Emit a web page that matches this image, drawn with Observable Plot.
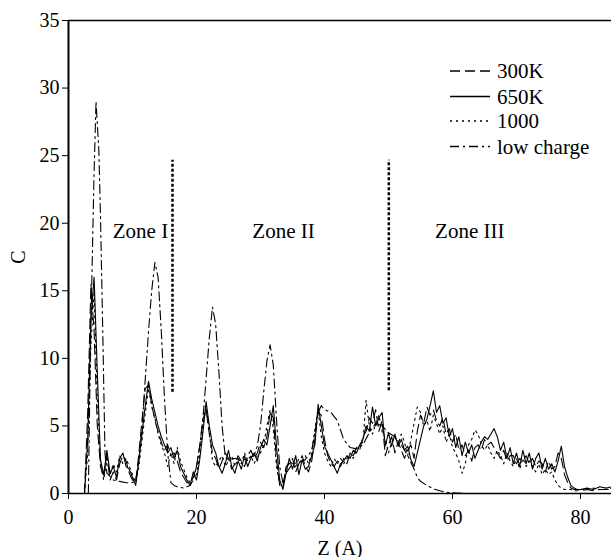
<!DOCTYPE html>
<html><head><meta charset="utf-8">
<script src="https://cdn.jsdelivr.net/npm/d3@7"></script>
<script src="https://cdn.jsdelivr.net/npm/@observablehq/plot@0.6"></script>
<style>body{margin:0;background:#fff;} #chart svg{display:block}</style>
</head><body><div id="chart"></div>
<script>
// Z grid shared by the three temperature series
const zT = [
 2.5,3,3.5,4,4.5,5,5.5,6,6.5,7,
 7.5,8,8.5,9,9.5,10,10.5,11,11.5,12,
 12.5,13,13.5,14,14.5,15,15.5,16,16.5,17,
 17.5,18,18.5,19,19.5,20,20.5,21,21.5,22,
 22.5,23,23.5,24,24.5,25,25.5,26,26.5,27,
 27.5,28,28.5,29,29.5,30,30.5,31,31.5,32,
 32.5,33,33.5,34,34.5,35,35.5,36,36.5,37,
 37.5,38,38.5,39,39.5,40,40.5,41,41.5,42,
 42.5,43,43.5,44,44.5,45,45.5,46,46.5,47,
 47.5,48,48.5,49,49.5,50,50.5,51,51.5,52,
 52.5,53,53.5,54,54.5,55,55.5,56,56.5,57,
 57.5,58,58.5,59,59.5,60,60.5,61,61.5,62,
 62.5,63,63.5,64,64.5,65,65.5,66,66.5,67,
 67.5,68,68.5,69,69.5,70,70.5,71,71.5,72,
 72.5,73,73.5,74,74.5,75,75.5,76,76.5,77,
 77.5,78,78.5,79,79.5,80,81,82,83,84,
 85];
const c300 = [
 0,6,15.5,12,5,2.0,1.2,2.8,1.0,1.6,
 1.0,2.2,2.8,2.4,1.5,1.0,0.8,3.0,5.5,7.8,
 8.0,6.6,5.4,4.6,3.8,3.2,3.6,2.8,3.0,2.4,
 1.6,1.2,0.8,0.8,1.2,2.0,3.5,5.5,6.2,4.4,
 3.0,2.6,1.8,2.4,3.0,2.6,1.8,2.2,2.8,2.4,
 2.0,2.8,3.2,2.6,3.0,3.8,3.4,4.2,6.0,5.6,
 2.5,0.6,0.5,2.0,2.2,2.6,1.6,2.2,2.8,2.0,
 1.6,2.4,4.0,6.0,5.8,4.0,2.8,2.2,2.0,2.4,
 2.0,2.6,2.2,3.0,2.8,3.4,3.2,4.2,4.6,5.6,
 5.2,6.2,4.6,5.4,2.8,3.6,4.2,3.0,3.8,3.2,
 2.6,3.2,3.6,2.6,4.6,5.8,5.2,6.4,5.8,6.2,
 5.4,5.0,5.6,4.4,4.8,3.8,4.4,3.2,3.6,2.8,
 3.2,2.4,3.4,3.6,3.2,4.0,3.6,3.8,3.4,3.0,
 2.6,3.2,2.4,2.8,2.8,2.2,2.6,2.4,2.8,2.2,
 2.6,2.0,2.4,2.2,1.6,2.4,1.8,2.0,3.0,2.6,
 1.4,0.8,0.4,0.3,0.3,0.2,0.3,0.2,0.3,0.3,
 0.3];
const c650 = [
 0,4,13,16,9,2.5,1.4,3.2,1.5,2.0,
 1.2,2.6,3.0,2.0,1.8,1.2,0.6,2.5,4.5,6.5,
 8.3,7.0,6.0,5.0,4.2,3.6,3.0,3.4,2.6,3.2,
 2.0,1.5,1.0,0.6,1.6,1.0,2.5,4.5,6.8,5.0,
 3.6,3.0,2.0,1.5,2.2,3.2,2.0,1.5,2.4,1.8,
 2.8,2.0,2.6,3.0,2.4,3.4,4.0,3.6,5.0,6.5,
 3.5,1.0,0.3,1.5,2.6,1.8,2.8,1.4,2.5,1.8,
 2.0,2.8,3.6,6.6,5.0,3.5,3.0,2.5,2.0,1.5,
 2.2,2.4,2.8,2.6,3.2,3.0,3.6,4.0,5.0,4.6,
 6.4,5.0,5.6,6.0,3.5,4.5,3.5,4.4,3.5,4.0,
 3.2,3.5,2.5,2.0,3.0,4.0,5.0,5.5,6.5,7.6,
 6.0,6.5,5.2,5.6,4.2,4.8,3.4,4.2,2.8,3.8,
 3.0,3.6,2.6,3.2,3.8,4.2,4.0,4.4,4.8,4.2,
 3.2,3.8,2.6,3.4,2.2,3.0,2.0,3.2,2.2,3.0,
 1.8,2.6,3.0,1.8,2.6,1.8,2.2,1.6,2.4,3.5,
 2.0,1.2,0.6,0.4,0.3,0.3,0.4,0.3,0.5,0.4,
 0.5];
const c1000 = [
 0,3,11,15,7,2.2,1.0,2.6,1.4,2.2,
 1.6,2.8,2.2,2.6,2.0,1.4,0.8,2.0,4.0,6.0,
 7.8,6.4,5.6,4.4,3.6,3.0,2.0,3.0,2.2,3.4,
 2.4,1.8,1.2,0.8,1.2,1.4,2.8,5.0,6.4,4.6,
 2.4,2.0,2.4,2.8,2.0,2.4,2.8,2.0,2.6,2.2,
 3.0,2.4,2.8,2.2,2.8,3.0,3.6,5.0,6.2,4.8,
 2.0,0.6,0.8,1.8,2.4,2.2,2.0,2.6,2.2,2.8,
 2.2,3.0,4.8,6.2,4.2,3.0,2.4,2.0,2.6,2.2,
 2.6,2.2,2.6,3.0,2.6,3.2,3.6,3.8,6.9,5.0,
 4.4,5.2,5.8,4.6,4.0,3.0,3.8,4.2,3.6,4.4,
 3.8,2.8,4.0,5.2,6.4,6.0,5.0,5.4,4.6,5.8,
 5.2,4.4,5.0,3.8,4.4,3.4,3.0,2.4,1.5,2.2,
 3.6,4.0,4.7,4.4,3.6,3.2,3.6,3.0,2.6,3.2,
 2.8,2.2,3.0,2.4,2.0,2.6,1.8,2.6,2.0,2.4,
 2.0,1.6,2.2,1.4,1.8,1.4,1.6,1.0,0.6,0.4,
 0.3,0.3,0.3,0.2,0.2,0.3,0.3,0.4,0.3,0.3,
 0.4];
// low charge series
const zLow = [3.1,3.44,3.96,4.3,4.74,5.0,5.4,5.7,6.0,7.0,8.0,9.0,10.0,10.5,11.0,11.5,12.0,12.5,13.0,
 13.5,14.0,14.5,15.0,15.5,16.0,16.5,17.0,18.0,19.0,19.5,20.0,20.5,21.0,21.5,22.0,22.5,23.0,23.5,24.0,
 24.5,25.0,26.0,27.0,28.0,29.0,29.5,30.0,30.5,31.0,31.5,32.0,32.5,33.0,33.5,34.0,35.0,36.0,37.0,38.0,
 38.5,39.0,39.5,40.0,41.0,42.0,43.0,44.0,45.0,46.0,47.0,48.0,49.0,50.0,51.0,52.0,53.0,54.0,54.5,55.0,
 56.0,57.0,58.0,59.0,60.0,62.0];
const cLow = [0,11,23,29,25.4,20.5,10.8,3,1.5,1.0,0.9,0.8,0.8,1.0,2.5,5,8.5,12,15,
 17.1,16,12,7,3,0.8,0.6,0.5,0.4,0.6,1.0,2.0,3.5,5.5,8.5,11.5,13.8,12.5,9,5,
 2.7,2.5,2.6,2.4,2.6,2.8,3.5,5,7.5,9.8,11,9.5,5.5,2,0.8,1.5,2.2,2.3,2.5,3.2,
 4.5,6.0,6.5,6.2,6.0,5.4,4.0,3.4,3.3,3.6,4.5,5.2,5.0,4.5,4.2,3.6,2.8,1.8,1.2,0.9,
 0.6,0.35,0.2,0.1,0.05,0.0];

const seriesNames = ["300K","650K","1000","low charge"];
const seriesDash = ["10,5", null, "2,4", "9,4,2,4"];
const seriesZ = [zT, zT, zT, zLow];
const seriesC = [c300, c650, c1000, cLow];

const xTicks = [0,20,40,60,80];
const yTicks = [0,5,10,15,20,25,30,35];

const zoneNames = ["Zone I","Zone II","Zone III"];
const zoneZ = [11.25, 33.6, 62.7];
const zoneC = [19.4, 19.4, 19.4];
const boundaryZ = [16.25, 50.05];
const boundaryLow = [7.5, 7.6];
const boundaryHigh = [24.65, 24.65];

const lineMarks = seriesNames.map((name, k) =>
  Plot.line(seriesZ[k].map((z, i) => ({z, c: seriesC[k][i]})), {
    x: "z", y: "c", stroke: "black", strokeWidth: 1.1,
    strokeDasharray: seriesDash[k] || undefined
  })
);

const chart = Plot.plot({
  width: 611, height: 557,
  marginLeft: 68, marginRight: 0, marginTop: 20, marginBottom: 64,
  style: {fontFamily: "'Liberation Serif', 'Times New Roman', serif", fontSize: "20px", background: "white", color: "black"},
  x: {domain: [0, 85], range: [68, 612]},
  y: {domain: [0, 35]},
  marks: [
    ...lineMarks,
    Plot.ruleX(boundaryZ, {x: d => d, y1: (d, i) => boundaryLow[i], y2: (d, i) => boundaryHigh[i], stroke: "black", strokeWidth: 2.5, strokeDasharray: "3,2"}),
    Plot.text(zoneNames, {x: (d, i) => zoneZ[i], y: (d, i) => zoneC[i], text: d => d, fontSize: 21, fill: "black"}),
    Plot.ruleY([0], {stroke: "black", strokeWidth: 1.5}),
    Plot.ruleY([35], {stroke: "black", strokeWidth: 1.5}),
    Plot.ruleX([0], {stroke: "black", strokeWidth: 2}),
    Plot.axisX({ticks: xTicks, tickSize: 6, tickPadding: 10, label: "Z (A)", labelAnchor: "center", labelArrow: "none", fontSize: 20}),
    Plot.axisY({ticks: yTicks, tickSize: 6, tickPadding: 3, label: "C", labelAnchor: "center", labelArrow: "none", labelOffset: 58, fontSize: 20})
  ]
});
document.getElementById("chart").appendChild(chart);

// legend inside the plot area (top-right)
const svg = d3.select(chart);
const lg = svg.append("g")
  .attr("font-family", "'Liberation Serif', 'Times New Roman', serif")
  .attr("font-size", 21)
  .attr("text-anchor", "start");
const rowY = [71, 96.5, 121, 146.5];
seriesNames.forEach((name, k) => {
  lg.append("line").attr("x1", 450).attr("x2", 490).attr("y1", rowY[k]).attr("y2", rowY[k])
    .attr("stroke", "black").attr("stroke-width", 1.4)
    .attr("stroke-dasharray", seriesDash[k] || null);
  lg.append("text").attr("x", 497).attr("y", rowY[k]).attr("dy", "0.35em")
    .attr("text-anchor", "start").attr("fill", "black").text(name);
});
</script>
</body></html>
